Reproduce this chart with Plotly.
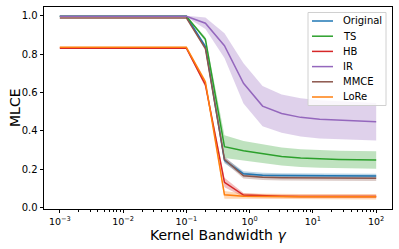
import plotly.graph_objects as go

gamma = [0.001, 0.002, 0.005, 0.01, 0.02, 0.05, 0.1, 0.2, 0.4, 0.8, 1.6, 3.2, 6.4, 12.8, 25.6, 51.2, 100]

original = [0.998]*7 + [0.840, 0.245, 0.175, 0.168, 0.166, 0.165, 0.164, 0.164, 0.163, 0.163]
original_sd = [0.002]*7 + [0.010, 0.015, 0.013, 0.012, 0.012, 0.012, 0.012, 0.012, 0.012, 0.012]

ts = [0.998]*7 + [0.878, 0.317, 0.296, 0.280, 0.266, 0.257, 0.252, 0.250, 0.248, 0.247]
ts_sd = [0.002]*7 + [0.012, 0.060, 0.050, 0.048, 0.047, 0.046, 0.046, 0.046, 0.046, 0.046]

hb = [0.832]*7 + [0.640, 0.130, 0.064, 0.060, 0.058, 0.057, 0.057, 0.057, 0.057, 0.057]
hb_sd = [0.003]*7 + [0.012, 0.025, 0.010, 0.008, 0.008, 0.008, 0.008, 0.008, 0.008, 0.008]

ir = [0.998]*7 + [0.962, 0.845, 0.648, 0.529, 0.490, 0.470, 0.460, 0.455, 0.450, 0.447]
ir_sd = [0.003]*7 + [0.030, 0.065, 0.105, 0.105, 0.100, 0.100, 0.100, 0.100, 0.098, 0.098]

mmce = [0.990]*7 + [0.830, 0.250, 0.165, 0.157, 0.155, 0.154, 0.153, 0.153, 0.152, 0.152]
mmce_sd = [0.002]*7 + [0.010, 0.015, 0.015, 0.015, 0.015, 0.015, 0.015, 0.015, 0.015, 0.015]

lore = [0.836]*7 + [0.655, 0.065, 0.058, 0.056, 0.055, 0.055, 0.055, 0.055, 0.055, 0.055]
lore_sd = [0.003]*7 + [0.012, 0.020, 0.014, 0.014, 0.014, 0.014, 0.014, 0.014, 0.014, 0.014]

series = [
    ("Original", original, original_sd, "#1f77b4", "rgba(31,119,180,0.3)"),
    ("TS", ts, ts_sd, "#2ca02c", "rgba(44,160,44,0.3)"),
    ("HB", hb, hb_sd, "#d62728", "rgba(214,39,40,0.3)"),
    ("IR", ir, ir_sd, "#9467bd", "rgba(148,103,189,0.3)"),
    ("MMCE", mmce, mmce_sd, "#8c564b", "rgba(140,86,75,0.3)"),
    ("LoRe", lore, lore_sd, "#ff7f0e", "rgba(255,127,14,0.3)"),
]

fig = go.Figure()
for name, y, sd, col, fcol in series:
    upper = [a + b for a, b in zip(y, sd)]
    lower = [a - b for a, b in zip(y, sd)]
    fig.add_trace(go.Scatter(x=gamma + gamma[::-1], y=upper + lower[::-1],
                             fill="toself", fillcolor=fcol, line=dict(width=0),
                             mode="lines", showlegend=False, hoverinfo="skip"))
for name, y, sd, col, fcol in series:
    fig.add_trace(go.Scatter(x=gamma, y=y, mode="lines", name=name, showlegend=False,
                             line=dict(color=col, width=1.5)))

font = "DejaVu Sans"
# plot area in pixels (for legend placement)
W, H = 399, 249
ML, MR, MT, MB = 44, 7, 7, 40
pw, ph = W - ML - MR, H - MT - MB

def px(x):
    return (x - ML) / pw

def py(y):
    return (H - MB - y) / ph

shapes = []
annotations = []
# legend box (upper right, inside axes)
bx0, bx1, by0, by1 = 308, 386, 12.5, 105.5
shapes.append(dict(type="rect", xref="paper", yref="paper", layer="above",
                   x0=px(bx0), x1=px(bx1), y0=py(by1), y1=py(by0),
                   line=dict(color="#d0d0d0", width=1), fillcolor="rgba(255,255,255,0.8)"))
for i, (name, y, sd, col, fcol) in enumerate(series):
    cy = 21 + i * 15.2
    shapes.append(dict(type="line", xref="paper", yref="paper", layer="above",
                       x0=px(312), x1=px(333), y0=py(cy), y1=py(cy),
                       line=dict(color=col, width=1.5)))
    annotations.append(dict(xref="paper", yref="paper", x=px(341), y=py(cy),
                            xanchor="left", yanchor="middle", showarrow=False,
                            text=name, font=dict(family=font, size=10, color="black")))

annotations.append(dict(xref="paper", yref="paper", x=0.5, y=py(225),
                        xanchor="center", yanchor="top", showarrow=False,
                        text="Kernel Bandwidth <i>γ</i>", font=dict(family=font, size=14)))
annotations.append(dict(xref="paper", yref="paper", x=px(15), y=0.5, textangle=-90,
                        xanchor="center", yanchor="middle", showarrow=False,
                        text="MLCE", font=dict(family=font, size=14)))

fig.update_layout(
    width=W, height=H,
    margin=dict(l=ML, r=MR, t=MT, b=MB),
    paper_bgcolor="white", plot_bgcolor="white",
    font=dict(family=font, size=10, color="black"),
    showlegend=False,
    shapes=shapes, annotations=annotations,
)
fig.update_xaxes(
    type="log", range=[-3.25, 2.25], automargin=False,
    tickvals=[0.001, 0.01, 0.1, 1, 10, 100],
    ticktext=["10<sup>−3</sup>", "10<sup>−2</sup>", "10<sup>−1</sup>", "10<sup>0</sup>", "10<sup>1</sup>", "10<sup>2</sup>"],
    ticks="outside", ticklen=3.5, tickwidth=0.8, tickcolor="black",
    showline=True, linecolor="black", linewidth=0.8, mirror=True,
    showgrid=False, zeroline=False,
    minor=dict(ticks="outside", ticklen=2, tickwidth=0.6, tickcolor="black", showgrid=False,
               tickvals=[m * 10**e for e in range(-3, 2) for m in range(2, 10)]),
    tickfont=dict(size=9.5),
)
fig.update_yaxes(
    range=[-0.009, 1.047], automargin=False,
    tickvals=[0, 0.2, 0.4, 0.6, 0.8, 1.0],
    ticktext=["0.0", "0.2", "0.4", "0.6", "0.8", "1.0"],
    ticks="outside", ticklen=3.5, tickwidth=0.8, tickcolor="black",
    showline=True, linecolor="black", linewidth=0.8, mirror=True,
    showgrid=False, zeroline=False,
    tickfont=dict(size=10),
)

fig.write_html("out.html", config={"displayModeBar": False},
               post_script="document.body.style.margin='0';")
